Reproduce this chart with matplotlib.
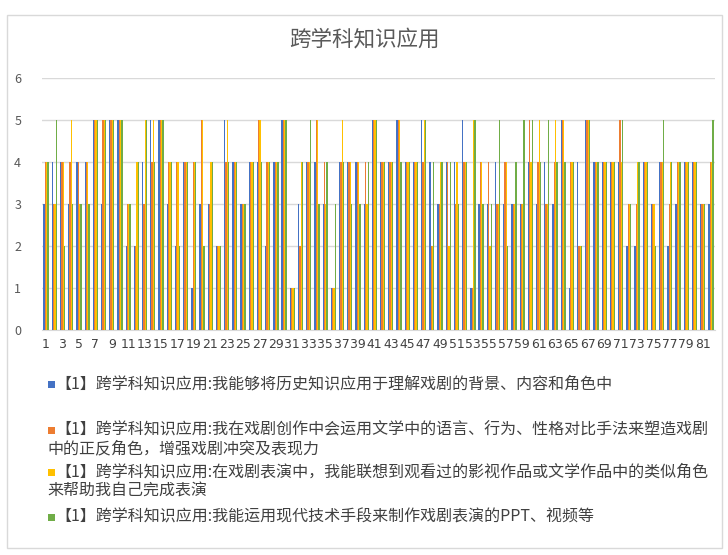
import matplotlib
matplotlib.use("Agg")
import matplotlib.pyplot as plt
import numpy as np
from matplotlib.patches import Rectangle

plt.rcParams['font.family'] = ['Noto Sans CJK SC', 'DejaVu Sans']

categories = list(range(1, 83))

series_blue = [3,4,4,3,4,4,5,3,5,5, 2,2,4,5,5,3,2,4,1,3, 3,2,5,4,3,4,4,2,4,5,
               1,3,4,4,3,1,4,4,4,3, 5,4,4,5,4,4,5,4,3,4, 4,5,1,3,3,4,3,3,3,4,
               3,4,3,5,1,4,5,4,4,4, 4,2,2,4,3,4,2,3,4,4, 3,3]
series_orange = [4,3,4,4,4,4,5,5,5,5, 3,2,3,4,5,4,4,4,4,5, 3,2,4,4,3,4,5,4,4,5,
                 1,2,4,5,4,1,4,4,4,4, 5,4,4,5,4,4,4,2,3,4, 3,4,1,4,4,3,4,3,3,5,
                 4,3,4,5,4,2,5,4,4,4, 5,3,3,4,3,4,3,4,4,4, 3,4]
series_yellow = [4,3,4,5,3,4,5,5,5,5, 3,4,5,5,5,4,4,4,4,5, 4,2,5,4,3,4,5,4,4,5,
                 1,4,4,5,3,1,5,4,4,3, 5,4,4,5,4,4,5,2,4,2, 4,4,5,4,2,3,4,3,3,4,
                 5,3,5,5,4,2,5,4,4,4, 4,3,4,4,3,4,4,4,4,4, 3,4]
series_green = [4,5,2,3,3,3,5,5,5,5, 3,4,5,4,5,4,2,4,4,2, 4,2,4,4,3,4,4,4,4,5,
                1,4,5,3,4,3,4,3,3,4, 5,4,4,4,4,4,5,4,4,4, 3,4,5,3,3,5,2,4,5,5,
                4,5,4,4,4,2,5,4,4,4, 5,3,4,4,2,5,4,4,4,4, 3,5]

series_names = [
    ["【1】跨学科知识应用:我能够将历史知识应用于理解戏剧的背景、内容和角色中"],
    ["【1】跨学科知识应用:我在戏剧创作中会运用文学中的语言、行为、性格对比手法来塑造戏剧",
     "中的正反角色，增强戏剧冲突及表现力"],
    ["【1】跨学科知识应用:在戏剧表演中，我能联想到观看过的影视作品或文学作品中的类似角色",
     "来帮助我自己完成表演"],
    ["【1】跨学科知识应用:我能运用现代技术手段来制作戏剧表演的PPT、视频等"],
]
colors = ["#4472C4", "#ED7D31", "#FFC000", "#70AD47"]
title = "跨学科知识应用"

W, H = 728, 555
fig = plt.figure(figsize=(W / 100, H / 100), dpi=100)
fig.patch.set_facecolor("white")

# chart border
fig.patches.append(Rectangle((7 / W, 1 - 548 / H), (722 - 7) / W, (548 - 15) / H,
                             transform=fig.transFigure, fill=False,
                             edgecolor="#D9D9D9", linewidth=1.0))

ax = fig.add_axes([42 / W, 1 - 330 / H, (715 - 42) / W, (330 - 78) / H])
x = np.arange(len(categories))
bw = 0.16
all_series = [series_blue, series_orange, series_yellow, series_green]
for i, (vals, c) in enumerate(zip(all_series, colors)):
    ax.bar(x + (i - 1.5) * bw, vals, width=bw, color=c, linewidth=0, zorder=3)

ax.set_xlim(-0.5, len(categories) - 0.5)
ax.set_ylim(0, 6)
ax.set_yticks(range(0, 7))
ax.yaxis.grid(True, color="#D9D9D9", linewidth=1.0, zorder=0)
ax.set_axisbelow(True)
for s in ["top", "right", "left"]:
    ax.spines[s].set_visible(False)
ax.spines["bottom"].set_color("#D9D9D9")
ax.tick_params(axis="y", length=0, pad=15, labelsize=9, labelcolor="#595959")
ax.tick_params(axis="x", length=0, pad=6, labelsize=8.9, labelcolor="#404040")
ax.set_xticks(x[::2])
ax.set_xticklabels([str(c) for c in categories[::2]], fontfamily="DejaVu Sans")

fig.text(364 / W, 1 - 40 / H, title, ha="center", va="center",
         fontsize=15.5, color="#595959")

# legend (manual layout)
entry_y = [[384], [430, 449], [472, 491], [517]]
for lines, c, ys in zip(series_names, colors, entry_y):
    fig.patches.append(Rectangle((48 / W, 1 - (ys[0] + 3.5) / H), 7 / W, 7 / H,
                                 transform=fig.transFigure, facecolor=c,
                                 edgecolor="none"))
    for k, (line, yy) in enumerate(zip(lines, ys)):
        fig.text((55 if k == 0 else 47) / W, 1 - yy / H, line, ha="left",
                 va="center", fontsize=11.5, color="#404040")

fig.savefig("out.png", dpi=100)
